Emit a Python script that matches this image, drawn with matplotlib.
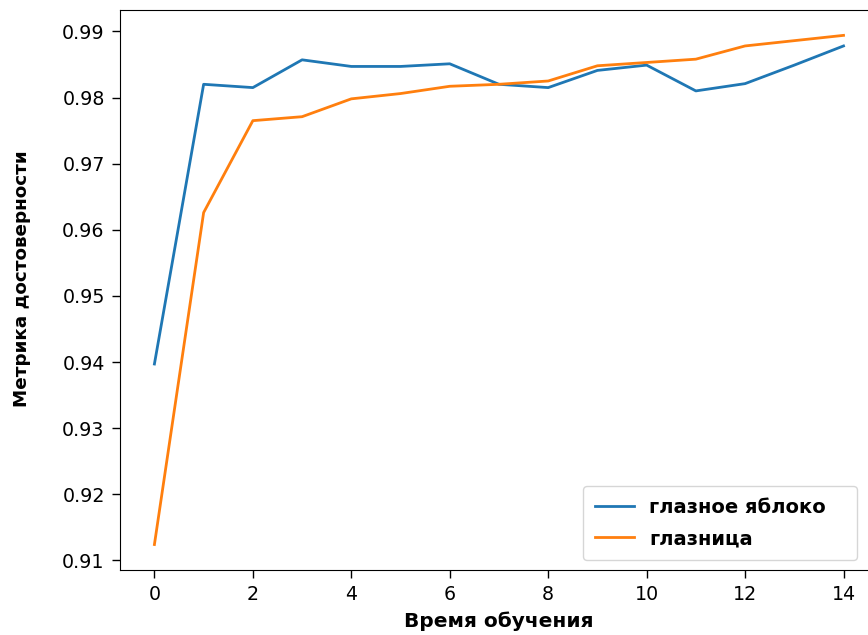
import matplotlib.pyplot as plt

epochs = list(range(15))
eyeball = [0.9397, 0.9820, 0.9815, 0.9857, 0.9847, 0.9847, 0.9851, 0.9820, 0.9815,
           0.9841, 0.9849, 0.9810, 0.9821, 0.9849, 0.9878]
orbit = [0.9124, 0.9626, 0.9765, 0.9771, 0.9798, 0.9806, 0.9817, 0.9820, 0.9825,
         0.9848, 0.9853, 0.9858, 0.9878, 0.9886, 0.9894]

fig = plt.figure(figsize=(8.68, 6.35), dpi=100)
# the original is cropped: right spine falls just outside the picture
ax = fig.add_axes([0.1382, 0.1024, 0.8733, 0.882])
ax.plot(epochs, eyeball, label='глазное яблоко', linewidth=2)
ax.plot(epochs, orbit, label='глазница', linewidth=2)

ax.set_xlabel('Время обучения', fontsize=14.5, fontweight='bold', labelpad=5)
ax.set_ylabel('Метрика достоверности', fontsize=13.2, fontweight='bold')
ax.yaxis.set_label_coords(-0.117, 0.52)
ax.set_xticks(range(0, 15, 2))
ax.tick_params(labelsize=13.7, length=6, width=1, pad=5)
ax.legend(loc='lower left', bbox_to_anchor=(0.611, 0.018, 0.361, 0.1), mode='expand',
          borderaxespad=0, prop={'size': 14, 'weight': 'bold'},
          labelspacing=0.65, borderpad=0.6, handlelength=2.0)

plt.savefig('out.png')
